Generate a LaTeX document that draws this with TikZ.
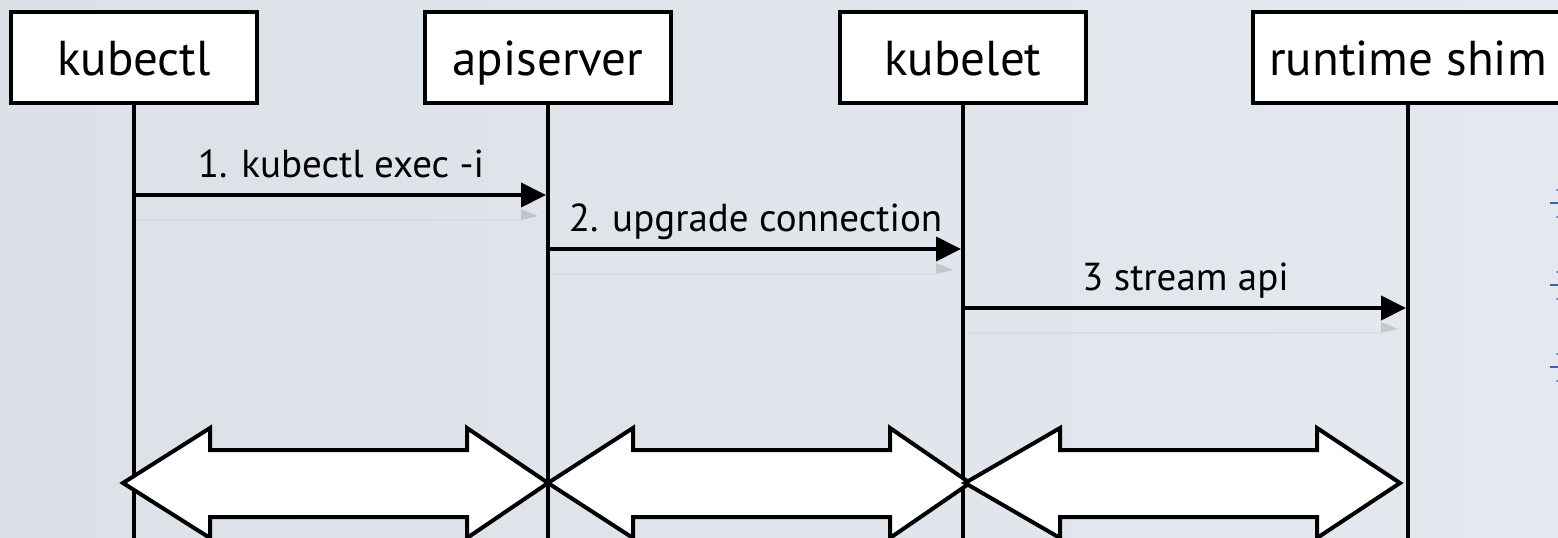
\documentclass[tikz,border=0pt]{standalone}
\usepackage{fontspec}
\setmainfont{PT Sans}
\usetikzlibrary{arrows.meta,calc}
\definecolor{paperL}{RGB}{220,224,231}
\definecolor{paperR}{RGB}{228,233,239}
\definecolor{tickblue}{RGB}{58,100,176}
\tikzset{
  actor/.style={draw=black, line width=4pt, fill=white, minimum width=246pt,
    minimum height=91pt, inner sep=0pt, font=\fontsize{49}{51}\selectfont,
    text height=35pt, text depth=0pt},
  life/.style={draw=black, line width=4.5pt},
  msg/.style={draw=black, line width=4pt, -{Triangle[length=25pt,width=24pt]}},
  msglabel/.style={anchor=base, font=\fontsize{39}{41}\selectfont, inner sep=0pt},
  ghost/.style={fill=gray, opacity=0.3},
  ghostline/.style={draw=gray, opacity=0.08, line width=1.5pt},
  pipe/.style={draw=black, line width=4pt, fill=white, line join=miter}
}
\begin{document}
\begin{tikzpicture}[x=1pt, y=-1pt]
  % background
  \shade[left color=paperL, right color=paperR] (0,0) rectangle (1558,538);
  \useasboundingbox (0,0) rectangle (1558,538);

  % participants
  \node[actor] (kc) at (134,57.5) {kubectl};
  \node[actor] (as) at (548,57.5) {apiserver};
  \node[actor] (kl) at (963,57.5) {kubelet};
  \node[actor, minimum width=310pt] (rs) at (1408,57.5) {runtime shim};

  % lifelines
  \coordinate (kcEnd) at (kc.south |- 0,545);
  \coordinate (asEnd) at (as.south |- 0,545);
  \coordinate (klEnd) at (kl.south |- 0,545);
  \coordinate (rsEnd) at (rs.south |- 0,545);
  \draw[life] (kc.south) -- (kcEnd);
  \draw[life] (as.south) -- (asEnd);
  \draw[life] (kl.south) -- (klEnd);
  \draw[life] (rs.south) -- (rsEnd);

  % message anchors on the lifelines
  \coordinate (m1s) at ($(kc.south |- 0,195)+(2,0)$);
  \coordinate (m1e) at ($(as.south |- 0,195)+(-2,0)$);
  \coordinate (m2s) at ($(as.south |- 0,249)+(2,0)$);
  \coordinate (m2e) at ($(kl.south |- 0,249)+(-2,0)$);
  \coordinate (m3s) at ($(kl.south |- 0,308)+(2,0)$);
  \coordinate (m3e) at ($(rs.south |- 0,308)+(-2,0)$);

  % faint reflections under the messages
  \foreach \s/\e in {m1s/m1e, m2s/m2e, m3s/m3e}{
    \draw[ghostline] ($(\s)+(0,25)$) -- ($(\e)+(-25,25)$);
    \fill[ghost] ($(\e)+(-25,14)$) -- ($(\e)+(-8,21)$) -- ($(\e)+(-25,25)$) -- cycle;
  }

  % messages
  \draw[msg] (m1s) -- (m1e) node[msglabel, pos=0.5, yshift=18pt] (l1) {1. kubectl exec -i};
  \draw[msg] (m2s) -- (m2e) node[msglabel, pos=0.5, yshift=18pt] (l2) {2. upgrade connection};
  \draw[msg] (m3s) -- (m3e) node[msglabel, pos=0.5, yshift=18pt] (l3) {3 stream api};

  % bidirectional streams between neighbours
  \draw[pipe] (123,483) -- (210,428) -- (210,450) -- (467,450) -- (467,428) -- (548,483)
    -- (467,538) -- (467,517) -- (210,517) -- (210,538) -- cycle;
  \draw[pipe] (548,483) -- (633,428) -- (633,450) -- (890,450) -- (890,428) -- (970,483)
    -- (890,538) -- (890,517) -- (633,517) -- (633,538) -- cycle;
  \draw[pipe] (965,483) -- (1060,428) -- (1060,450) -- (1317,450) -- (1317,428) -- (1400,483)
    -- (1317,538) -- (1317,517) -- (1060,517) -- (1060,538) -- cycle;

  % bullet marks at the right edge
  \foreach \y in {203,285,367}{
    \draw[tickblue, line width=2pt] (1550,\y) -- (1558,\y);
    \fill[tickblue] (1557,\y-13) circle (1pt);
    \fill[tickblue] (1557,\y+14) circle (1pt);
  }
\end{tikzpicture}
\end{document}
